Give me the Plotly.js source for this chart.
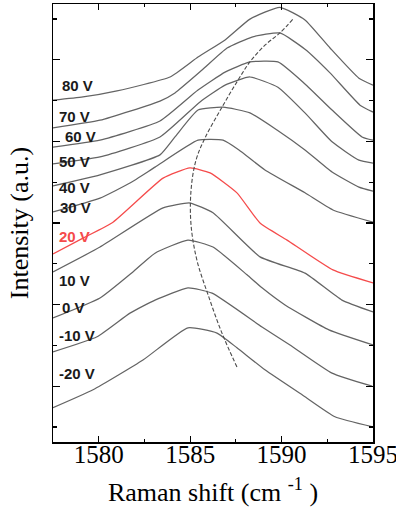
<!DOCTYPE html>
<html>
<head>
<meta charset="utf-8">
<script src="https://cdn.plot.ly/plotly-3.0.1.min.js"></script>
<style>html,body{margin:0;padding:0;background:#fff;}#chart{width:396px;height:515px;}</style>
</head>
<body>
<div id="chart"></div>
<script>
// Series names (gate voltage)
const voltages = ['80 V','70 V','60 V','50 V','40 V','30 V','20 V','10 V','0 V','-10 V','-20 V'];

// Raman shift (cm^-1) and intensity (a.u.) per spectrum
const shift80 = [1577.5,1579.14,1581.0,1583.9,1585.43,1586.91,1588.27,1589.91,1591.28,1592.65,1594.23,1595.0];
const int80   = [8.01,8.09,8.24,8.58,9.07,9.49,10.0,10.29,9.98,9.29,8.55,8.38];

const shift70 = [1577.5,1580.07,1583.35,1584.17,1585.65,1587.02,1588.38,1589.91,1591.28,1592.65,1594.29,1595.0];
const int70   = [7.33,7.52,7.99,8.19,8.75,9.29,9.56,9.66,9.26,8.68,7.89,7.72];

const shift60 = [1577.5,1580.07,1583.35,1585.43,1586.91,1588.27,1589.80,1591.28,1592.76,1594.40,1595.0];
const int60   = [6.86,7.03,7.50,8.26,8.70,8.95,8.95,8.41,7.77,7.11,7.03];

const shift50 = [1577.5,1580.07,1583.35,1585.54,1586.91,1588.27,1589.80,1591.28,1592.76,1594.23,1595.0];
const int50   = [6.45,6.62,7.11,7.97,8.38,8.58,8.33,7.70,6.99,6.54,6.47];

const shift40 = [1577.5,1580.07,1583.35,1584.17,1585.43,1586.80,1588.27,1589.75,1591.28,1592.76,1594.23,1595.0];
const int40   = [5.91,6.18,6.67,7.11,7.77,7.84,7.70,7.28,6.79,6.25,5.88,5.78];

const shift30 = [1577.5,1580.07,1581.71,1583.08,1585.43,1586.80,1587.67,1589.09,1591.28,1592.81,1595.0];
const int30   = [5.27,5.61,5.98,6.37,7.03,7.03,6.79,6.30,5.74,5.32,5.02];

const shift20 = [1577.5,1579.14,1580.78,1583.52,1584.99,1586.09,1587.56,1588.82,1590.30,1592.81,1595.0];
const int20   = [4.24,4.63,5.02,6.10,6.35,6.23,5.74,5.00,4.58,3.85,3.53];

const shift10 = [1577.5,1580.07,1583.52,1584.99,1586.25,1588.82,1591.28,1593.30,1595.0];
const int10   = [3.80,4.41,5.37,5.49,5.25,4.17,3.77,3.11,2.82];

const shift0  = [1577.5,1580.07,1581.87,1583.08,1584.88,1586.25,1588.11,1588.93,1590.19,1592.59,1595.0];
const int0    = [2.67,3.16,3.80,4.26,4.58,4.41,3.73,3.41,2.99,2.38,2.01];

const shiftM10 = [1577.5,1579.91,1581.71,1583.08,1584.88,1586.20,1588.93,1590.46,1592.76,1594.95];
const intM10   = [1.84,2.21,2.79,3.11,3.41,3.28,2.45,2.01,1.32,1.00];

const shiftM20 = [1577.5,1579.69,1582.42,1584.88,1586.47,1587.56,1589.09,1591.28,1592.92,1595.0];
const intM20   = [0.47,0.91,1.64,2.43,2.30,1.94,1.40,0.74,0.25,0.00];

// Peak-position guide curve
const arcShift = [1587.56,1586.74,1585.98,1585.37,1585.05,1585.05,1585.32,1585.81,1586.74,1587.56,1588.27,1589.09,1589.91,1590.62];
const arcInt   = [1.47,2.30,3.24,4.09,4.95,5.81,6.54,7.08,7.84,8.46,8.95,9.36,9.66,10.0];

// Label placement (layout only)
const labelX = [1577.88,1577.72,1578.05,1577.72,1577.72,1577.78,1577.72,1577.72,1577.88,1577.72,1577.72];
const labelY = [8.36,7.60,7.11,6.50,5.86,5.39,4.66,3.60,2.92,2.25,1.32];

const xs = [shift80,shift70,shift60,shift50,shift40,shift30,shift20,shift10,shift0,shiftM10,shiftM20];
const ys = [int80,int70,int60,int50,int40,int30,int20,int10,int0,intM10,intM20];

const GRAY = 'rgb(100,100,100)';
const RED = 'rgb(245,75,75)';
const SERIF = 'Liberation Serif, Times New Roman, serif';

const traces = voltages.map((v,i) => ({
  type:'scatter', mode:'lines', name:v, x:xs[i], y:ys[i],
  line:{color: v==='20 V' ? RED : GRAY, width: 1.25, shape:'spline', smoothing:0.45},
  hoverinfo:'skip'
}));
traces.push({
  type:'scatter', mode:'lines', name:'peak', x:arcShift, y:arcInt,
  line:{color:'rgb(75,75,75)', width:1.1, dash:'4px,2px', shape:'spline', smoothing:1},
  hoverinfo:'skip'
});

const annotations = voltages.map((v,i) => ({
  x: labelX[i], y: labelY[i], xref:'x', yref:'y', text:v, showarrow:false,
  xanchor:'left', yanchor:'middle',
  font:{family:'Liberation Sans, Arial, sans-serif', size:15, color: v==='20 V' ? RED : '#1a1a1a', weight:700}
}));

const layout = {
  width:396, height:515,
  margin:{l:53, r:23, t:4, b:73},
  paper_bgcolor:'#fff', plot_bgcolor:'#fff',
  showlegend:false,
  xaxis:{
    range:[1577.5,1595], tick0:1580, dtick:5,
    ticks:'inside', ticklen:6, tickwidth:1.2, tickcolor:'#000',
    minor:{ticks:'inside', ticklen:3, tickwidth:1.2, tickcolor:'#000', dtick:2.5, tick0:1580},
    showline:true, linewidth:1.5, linecolor:'#000', mirror:'ticks',
    showgrid:false, zeroline:false,
    ticklabeloverflow:'allow', ticklabelstandoff:-11,
    tickfont:{family:SERIF, size:25, color:'#000'},
    title:{text:'Raman shift (cm <sup>-1</sup> )', font:{family:SERIF, size:26, color:'#000'}, standoff:16}
  },
  yaxis:{
    range:[-0.37,10.37], tick0:1, dtick:2,
    ticks:'inside', ticklen:7, tickwidth:1.2, tickcolor:'#000',
    minor:{ticks:'inside', ticklen:4, tickwidth:1.2, tickcolor:'#000', dtick:1, tick0:0},
    showticklabels:false,
    showline:true, linewidth:1.5, linecolor:'#000', mirror:'ticks',
    showgrid:false, zeroline:false,
    title:{text:'Intensity (a.u.)', font:{family:SERIF, size:26, color:'#000'}, standoff:15}
  },
  annotations: annotations
};

Plotly.newPlot('chart', traces, layout, {staticPlot:true, displayModeBar:false});
</script>
</body>
</html>
